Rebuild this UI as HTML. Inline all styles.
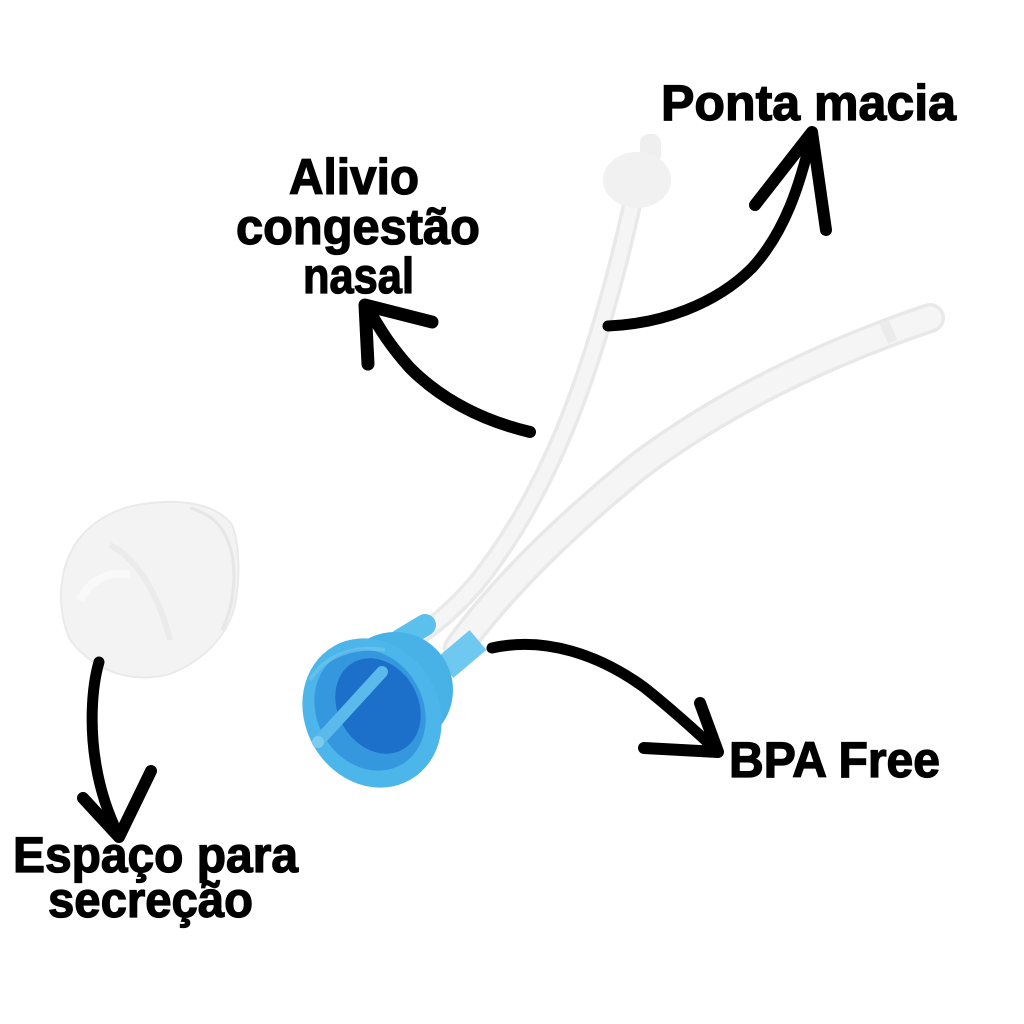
<!DOCTYPE html>
<html><head><meta charset="utf-8"><style>
html,body{margin:0;padding:0;background:#fff;}
svg{display:block;}
text{font-family:"Liberation Sans",sans-serif;font-weight:bold;fill:#000;stroke:#000;stroke-width:1.3px;paint-order:stroke;}
</style></head><body>
<svg width="1024" height="1024" viewBox="0 0 1024 1024" xmlns="http://www.w3.org/2000/svg">
<rect width="1024" height="1024" fill="#fff"/>

<!-- cap / dome -->
<path d="M70 640 C55 605 58 560 85 532 C105 512 130 503 165 502 C195 501 220 508 232 525 C240 545 240 580 235 605 C228 635 205 660 170 674 C140 682 100 678 70 640 Z" fill="#f3f3f3" stroke="#eaeaea" stroke-width="2"/>
<path d="M190 508 C215 515 228 530 233 560 C236 585 232 610 222 630" fill="none" stroke="#e6e6e6" stroke-width="3"/>
<path d="M110 545 C140 560 160 600 170 640" fill="none" stroke="#ebebeb" stroke-width="6"/>
<path d="M80 600 C90 580 110 570 130 575" fill="none" stroke="#f9f9f9" stroke-width="8"/>

<!-- left tube -->
<path d="M632 205 C622 250 605 320 580 390 C555 460 520 530 475 585 C455 608 435 625 418 636" fill="none" stroke="#e9e9e9" stroke-width="20" stroke-linecap="round"/>
<path d="M632 205 C622 250 605 320 580 390 C555 460 520 530 475 585 C455 608 435 625 418 636" fill="none" stroke="#f5f5f5" stroke-width="13" stroke-linecap="round"/>
<!-- bulb -->
<rect x="640" y="134" width="21" height="30" rx="9" fill="#efefef"/>
<ellipse cx="637" cy="180" rx="34" ry="28" fill="#f1f1f1"/>

<!-- right tube -->
<path d="M458 648 C500 590 560 530 640 465 C720 405 820 355 930 318" fill="none" stroke="#e8e8e8" stroke-width="30" stroke-linecap="round"/>
<path d="M458 648 C500 590 560 530 640 465 C720 405 820 355 930 318" fill="none" stroke="#f5f5f5" stroke-width="23" stroke-linecap="round"/>
<path d="M884 334 L893 330" stroke="#ebebeb" stroke-width="22"/>

<!-- blue connectors -->
<path d="M400 640 L425 625" stroke="#5cc0ec" stroke-width="22" stroke-linecap="round"/>
<path d="M445 668 L478 640" stroke="#6ec8ef" stroke-width="26" stroke-linecap="butt"/>

<!-- blue cup -->
<ellipse cx="395" cy="690" rx="58" ry="58" fill="#48b2e6"/>
<ellipse cx="372" cy="713" rx="67" ry="77" transform="rotate(-30 372 713)" fill="#4cb5e9"/>
<ellipse cx="370" cy="710" rx="53" ry="63" transform="rotate(-30 370 710)" fill="#3597de"/>
<ellipse cx="378" cy="706" rx="40" ry="50" transform="rotate(-30 378 706)" fill="#1c70ca"/>
<path d="M318 742 L382 672" stroke="#5bbaeb" stroke-width="12" stroke-linecap="round"/>
<circle cx="318" cy="742" r="6" fill="#7ccbf0"/>
<path d="M310 680 C325 655 355 645 385 650" fill="none" stroke="#6dc3ee" stroke-width="4" opacity="0.7"/>

<!-- arrows -->
<g fill="none" stroke="#000" stroke-linecap="round" stroke-linejoin="round">
  <path d="M608 326 C660 324 715 305 752 268 C785 232 800 185 812 134" stroke-width="11"/>
  <path d="M755 205 L812 132 L826 230" stroke-width="12"/>
  <path d="M530 432 C480 420 440 398 410 368 C392 348 380 330 368 308" stroke-width="12"/>
  <path d="M432 322 L365 305 L368 364" stroke-width="13"/>
  <path d="M492 648 C545 636 600 655 645 688 C675 712 700 735 718 752" stroke-width="11"/>
  <path d="M700 703 L718 752 L644 748" stroke-width="12"/>
  <path d="M99 662 C91 690 90 730 96 765 C101 795 110 818 119 836" stroke-width="11"/>
  <path d="M83 798 L119 837 L151 771" stroke-width="12"/>
</g>

<!-- labels -->
<text x="661" y="120" font-size="50" textLength="295" lengthAdjust="spacingAndGlyphs">Ponta macia</text>
<text x="289" y="194" font-size="50" textLength="130" lengthAdjust="spacingAndGlyphs">Alivio</text>
<text x="236" y="244" font-size="50" textLength="244" lengthAdjust="spacingAndGlyphs">congestão</text>
<text x="303" y="293" font-size="50" textLength="111" lengthAdjust="spacingAndGlyphs">nasal</text>
<text x="729" y="777" font-size="50" textLength="211" lengthAdjust="spacingAndGlyphs">BPA Free</text>
<text x="13" y="872" font-size="50" textLength="285" lengthAdjust="spacingAndGlyphs">Espaço para</text>
<text x="48" y="917" font-size="50" textLength="205" lengthAdjust="spacingAndGlyphs">secreção</text>
</svg>
</body></html>
